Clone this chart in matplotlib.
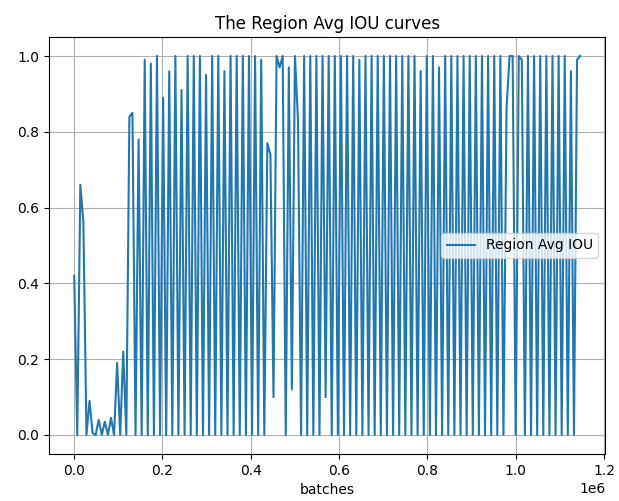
# Region Avg IOU over training batches
# values, one entry per logging step

import numpy as np
import matplotlib
matplotlib.use("Agg")
import matplotlib.pyplot as plt

LOG_EVERY = 6945  # batches between two logged points

region_avg_iou = [
    0.42, 0.0, 0.66, 0.56, 0.0, 0.09, 0.005, 0.0, 0.04, 0.0,
    0.035, 0.0, 0.045, 0.0, 0.19, 0.0, 0.22, 0.0, 0.84, 0.85,
    0.0, 0.78, 0.0, 0.99, 0.0, 0.98, 0.0, 1.0, 0.0, 0.89,
    0.0, 0.96, 0.0, 1.0, 0.0, 0.91, 0.0, 1.0, 0.0, 1.0,
    0.0, 1.0, 0.0, 0.95, 0.0, 1.0, 0.0, 1.0, 0.0, 0.96,
    0.0, 1.0, 0.0, 1.0, 0.0, 1.0, 0.0, 1.0, 0.0, 1.0,
    0.0, 0.99, 0.0, 0.77, 0.74, 0.1, 1.0, 0.97, 1.0, 0.0,
    0.97, 0.12, 1.0, 0.83, 0.0, 1.0, 0.0, 1.0, 0.0, 1.0,
    0.0, 1.0, 0.1, 1.0, 0.0, 1.0, 0.0, 1.0, 0.0, 1.0,
    0.0, 1.0, 0.0, 0.99, 0.0, 1.0, 0.0, 1.0, 0.0, 1.0,
    0.0, 1.0, 0.0, 1.0, 0.0, 1.0, 0.0, 1.0, 0.0, 1.0,
    0.0, 1.0, 0.0, 0.96, 0.0, 1.0, 0.0, 1.0, 0.0, 0.97,
    0.0, 1.0, 0.0, 1.0, 0.0, 1.0, 0.0, 1.0, 0.0, 1.0,
    0.0, 1.0, 0.0, 1.0, 0.0, 1.0, 0.0, 1.0, 0.0, 1.0,
    0.0, 0.86, 1.0, 1.0, 0.0, 1.0, 0.99, 0.0, 1.0, 0.0,
    1.0, 0.0, 1.0, 0.0, 1.0, 0.0, 1.0, 0.0, 1.0, 0.0,
    1.0, 0.0, 0.96, 0.0, 0.99, 1.0,
]

batches = np.arange(len(region_avg_iou)) * LOG_EVERY

fig = plt.figure(figsize=(6.19, 5.01), dpi=100)
ax = fig.add_subplot(111)
fig.subplots_adjust(left=0.079, right=0.978, bottom=0.094, top=0.926)

ax.plot(batches, region_avg_iou, label="Region Avg IOU")

ax.set_title("The Region Avg IOU curves")
ax.set_xlabel("batches")
ax.grid(True)
ax.legend(loc="center right")

fig.savefig("out.png")
